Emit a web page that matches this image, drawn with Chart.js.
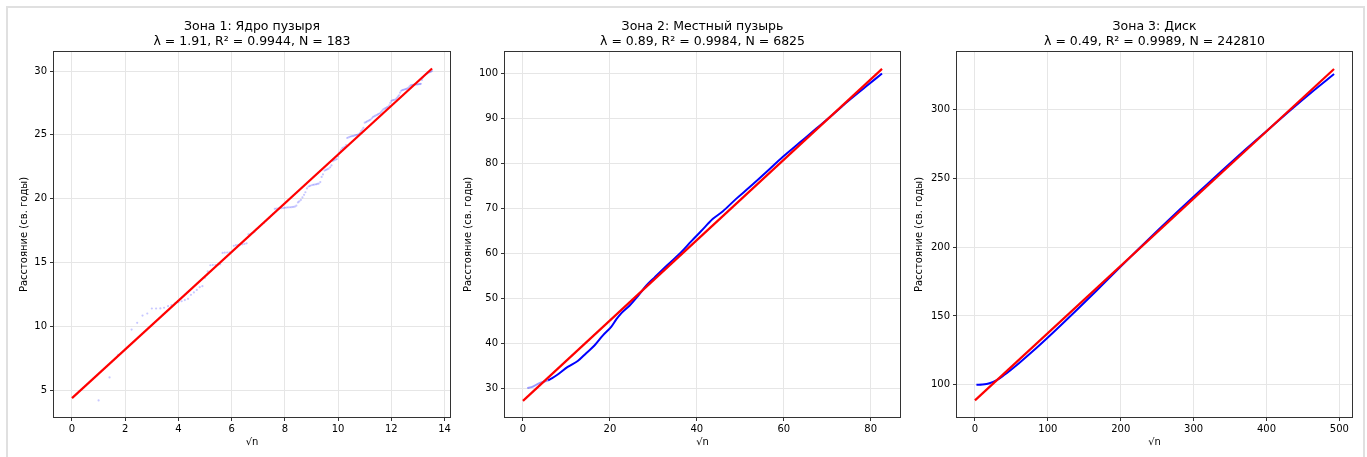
<!DOCTYPE html>
<html>
<head>
<meta charset="utf-8">
<script src="https://cdn.jsdelivr.net/npm/chart.js@4.4.1/dist/chart.umd.min.js"></script>
<style>
html,body{margin:0;padding:0;width:1367px;height:457px;overflow:hidden;background:#fff;}
#frame{position:absolute;left:6px;top:6px;width:1359px;height:480px;border:2px solid #e0e0e0;box-sizing:border-box;}
canvas{position:absolute;top:0;}
</style>
</head>
<body>
<div id="frame"></div>
<canvas id="c1" width="504" height="457" style="left:0px"></canvas>
<canvas id="c2" width="503" height="457" style="left:451px"></canvas>
<canvas id="c3" width="503" height="457" style="left:903px"></canvas>
<script>
// ---------- Panel 1 ----------
const title1 = ['Зона 1: Ядро пузыря', 'λ = 1.91, R² = 0.9944, N = 183'];
const sqrtN1 = [1.00,1.41,1.73,2.00,2.24,2.45,2.65,2.83,3.00,3.16,3.32,3.46,3.61,3.74,3.87,4.00,4.12,4.24,4.36,4.47,4.58,4.69,4.80,4.90,5.00,5.10,5.20,5.29,5.39,5.48,5.57,5.66,5.74,5.83,5.92,6.00,6.08,6.16,6.24,6.32,6.40,6.48,6.56,6.63,6.71,6.78,6.86,6.93,7.00,7.07,7.14,7.21,7.28,7.35,7.42,7.48,7.55,7.62,7.68,7.75,7.81,7.87,7.94,8.00,8.06,8.12,8.19,8.25,8.31,8.37,8.43,8.49,8.54,8.60,8.66,8.72,8.77,8.83,8.89,8.94,9.00,9.06,9.11,9.17,9.22,9.27,9.33,9.38,9.43,9.49,9.54,9.59,9.64,9.70,9.75,9.80,9.85,9.90,9.95,10.00,10.05,10.10,10.15,10.20,10.25,10.30,10.34,10.39,10.44,10.49,10.54,10.58,10.63,10.68,10.72,10.77,10.82,10.86,10.91,10.95,11.00,11.05,11.09,11.14,11.18,11.22,11.27,11.31,11.36,11.40,11.45,11.49,11.53,11.58,11.62,11.66,11.70,11.75,11.79,11.83,11.87,11.92,11.96,12.00,12.04,12.08,12.12,12.17,12.21,12.25,12.29,12.33,12.37,12.41,12.45,12.49,12.53,12.57,12.61,12.65,12.69,12.73,12.77,12.81,12.85,12.88,12.92,12.96,13.00,13.04,13.08,13.11,13.15,13.19,13.23,13.27,13.30,13.34,13.38,13.42,13.45,13.49,13.53];
const dist1 = [4.19,5.99,7.76,8.2,9.74,10.27,10.84,11.0,11.39,11.39,
11.40,11.45,11.57,11.65,11.8,11.88,11.96,12.05,12.15,12.46,
12.65,12.85,13.06,13.14,13.8,14.3,14.78,14.8,14.8,14.82,
14.85,15.75,15.77,15.78,15.8,15.82,16.3,16.35,16.37,16.4,
16.42,16.45,16.5,17.2,17.25,17.3,17.4,17.6,17.7,17.85,
18.0,18.1,18.25,18.4,18.5,18.65,18.8,19.2,19.22,19.23,
19.24,19.25,19.26,19.28,19.30,19.31,19.32,19.33,19.35,19.37,
19.45,19.7,19.78,19.9,20.1,20.3,20.5,20.8,20.95,21.0,
21.05,21.08,21.1,21.12,21.15,21.18,21.3,21.7,21.9,22.2,
22.25,22.3,22.35,22.45,22.6,22.95,23.0,23.05,23.1,23.3,
23.6,23.8,23.95,24.0,24.05,24.2,24.75,24.8,24.85,24.88,
24.9,24.92,24.95,24.98,25.0,25.05,25.15,25.3,25.4,25.55,
25.95,26.0,26.05,26.1,26.15,26.2,26.3,26.4,26.45,26.5,
26.55,26.6,26.65,26.7,26.8,26.9,27.0,27.05,27.1,27.15,
27.2,27.3,27.5,27.65,27.7,27.72,27.75,27.8,27.9,28.0,
28.1,28.3,28.45,28.5,28.52,28.55,28.58,28.6,28.65,28.7,
28.8,28.88,28.9,28.92,28.93,28.94,28.95,28.95,28.96,28.97,
28.98,29.0,29.3,29.5,29.6,29.7,29.75,29.8,29.85,29.9,
29.92,29.95,30.0];
const fitX1 = [0, 13.53];
const fitY1 = [4.37, 30.2];
const xTicks1 = [0,2,4,6,8,10,12,14];
const yTicks1 = [5,10,15,20,25,30];

// ---------- Panel 2 ----------
const title2 = ['Зона 2: Местный пузырь', 'λ = 0.89, R² = 0.9984, N = 6825'];
const sqrtN2 = [1.0,2.0,3.8,5.8,8.0,10.3,12.6,14.6,16.5,18.4,20.3,21.5,22.6,24.5,26.4,28.4,30.3,33.3,36.4,38.7,41.0,43.7,46.0,49.1,52.1,56.0,59.8,63.6,67.4,71.3,75.1,78.9,82.6];
const dist2 = [30.0,30.2,31.1,31.7,33.0,34.7,36.0,37.8,39.5,41.7,43.6,45.3,46.6,48.3,50.4,52.8,54.6,57.4,60.2,62.6,64.9,67.6,69.3,72.1,74.6,78.0,81.4,84.5,87.6,90.8,94.0,97.0,99.9];
const fitX2 = [0, 82.61];
const fitY2 = [27.15, 100.95];
const xTicks2 = [0,20,40,60,80];
const yTicks2 = [30,40,50,60,70,80,90,100];

// ---------- Panel 3 ----------
const title3 = ['Зона 3: Диск', 'λ = 0.49, R² = 0.9989, N = 242810'];
const sqrtN3 = [2,10,20,30,40,50,60,80,100,120,140,160,180,200,220,250,280,310,340,370,400,430,460,492.8];
const dist3 = [99.9,100.1,101.0,103.3,107.0,111.1,115.4,124.6,134.3,144.3,154.5,164.9,175.3,185.9,196.3,211.8,226.9,241.6,256.2,270.5,284.4,298.3,311.8,325.9];
const fitX3 = [0, 492.76];
const fitY3 = [88.6, 329.6];
const xTicks3 = [0,100,200,300,400,500];
const yTicks3 = [100,150,200,250,300];

const xLabel = '√n';
const yLabel = 'Расстояние (св. годы)';

const FONT = "'DejaVu Sans', sans-serif";
const pts = (xs, ys) => xs.map((x, i) => ({x: x, y: ys[i]}));

const framePlugin = {
  id: 'frame',
  afterDatasetsDraw(chart) {
    const a = chart.chartArea, ctx = chart.ctx;
    ctx.save();
    ctx.strokeStyle = '#333';
    ctx.lineWidth = 1;
    ctx.strokeRect(Math.round(a.left) - 0.5, Math.round(a.top) - 0.5, Math.round(a.right - a.left) + 1, Math.round(a.bottom - a.top) + 1);
    ctx.restore();
  }
};

function makeChart(id, cfg) {
  const datasets = [
    {
      label: 'fit',
      data: pts(cfg.fitX, cfg.fitY),
      showLine: true,
      borderColor: '#ff0000',
      borderWidth: 2.2,
      pointRadius: 0,
      fill: false
    }
  ];
  if (cfg.scatter) {
    datasets.push({
      label: 'data',
      data: pts(cfg.xs, cfg.ys),
      showLine: false,
      pointRadius: 1.1,
      pointBorderWidth: 0,
      pointBackgroundColor: 'rgba(0,0,255,0.22)',
      pointBorderColor: 'rgba(0,0,0,0)'
    });
  } else {
    datasets.push({
      label: 'data',
      data: pts(cfg.xs, cfg.ys),
      showLine: true,
      borderColor: '#0000ff',
      borderWidth: 2,
      pointRadius: 0,
      cubicInterpolationMode: 'monotone',
      segment: cfg.lightStart ? {
        borderColor: c => (c.p1.parsed.x <= cfg.lightStart ? 'rgba(0,0,255,0.4)' : '#0000ff')
      } : undefined
    });
  }
  return new Chart(document.getElementById(id), {
    type: 'scatter',
    data: { datasets: datasets },
    plugins: [framePlugin],
    options: {
      responsive: false,
      animation: false,
      events: [],
      layout: { padding: 0 },
      plugins: {
        legend: { display: false },
        tooltip: { enabled: false },
        title: {
          display: true,
          text: cfg.title,
          color: '#000',
          font: { family: FONT, size: 12.5, weight: 'normal', lineHeight: 1.15 },
          padding: { top: 20, bottom: 3.25 }
        }
      },
      scales: {
        x: {
          type: 'linear',
          position: 'bottom',
          min: cfg.xMin, max: cfg.xMax,
          afterBuildTicks: s => { s.ticks = cfg.xTicks.map(v => ({value: v})); },
          afterFit: s => { s.height = 40; },
          grid: { color: '#e6e6e6', lineWidth: 1, tickColor: '#333', tickLength: 4, drawTicks: true },
          border: { display: false },
          ticks: { color: '#000', font: { family: FONT, size: 10 }, padding: 2, maxRotation: 0, callback: v => String(v) },
          title: { display: true, text: xLabel, color: '#000', font: { family: FONT, size: 10, lineHeight: 1.2 }, padding: { top: 0, bottom: 9 } }
        },
        y: {
          type: 'linear',
          position: 'left',
          min: cfg.yMin, max: cfg.yMax,
          afterBuildTicks: s => { s.ticks = cfg.yTicks.map(v => ({value: v})); },
          afterFit: s => { s.width = 54; },
          grid: { color: '#e6e6e6', lineWidth: 1, tickColor: '#333', tickLength: 4, drawTicks: true },
          border: { display: false },
          ticks: { color: '#000', font: { family: FONT, size: 10 }, padding: 3, callback: v => String(v) },
          title: { display: true, text: yLabel, color: '#000', font: { family: FONT, size: 10, lineHeight: 1.2 }, padding: { top: cfg.yTitlePad, bottom: 0 } }
        },
        yR: {
          type: 'linear',
          position: 'right',
          display: true,
          afterFit: s => { s.width = 54; },
          grid: { display: false },
          border: { display: false },
          ticks: { display: false }
        }
      }
    }
  });
}

makeChart('c1', {
  title: title1, xs: sqrtN1, ys: dist1, fitX: fitX1, fitY: fitY1, scatter: true,
  xMin: -0.676, xMax: 14.204, yMin: 2.89, yMax: 31.49,
  xTicks: xTicks1, yTicks: yTicks1, yTitlePad: 18
});
makeChart('c2', {
  title: title2, xs: sqrtN2, ys: dist2, fitX: fitX2, fitY: fitY2, scatter: false, lightStart: 6,
  xMin: -4.13, xMax: 86.74, yMin: 23.56, yMax: 104.69,
  xTicks: xTicks2, yTicks: yTicks2, yTitlePad: 11.7
});
makeChart('c3', {
  title: title3, xs: sqrtN3, ys: dist3, fitX: fitX3, fitY: fitY3, scatter: false,
  xMin: -24.64, xMax: 517.4, yMin: 76.5, yMax: 341.97,
  xTicks: xTicks3, yTicks: yTicks3, yTitlePad: 10
});
</script>
</body>
</html>
